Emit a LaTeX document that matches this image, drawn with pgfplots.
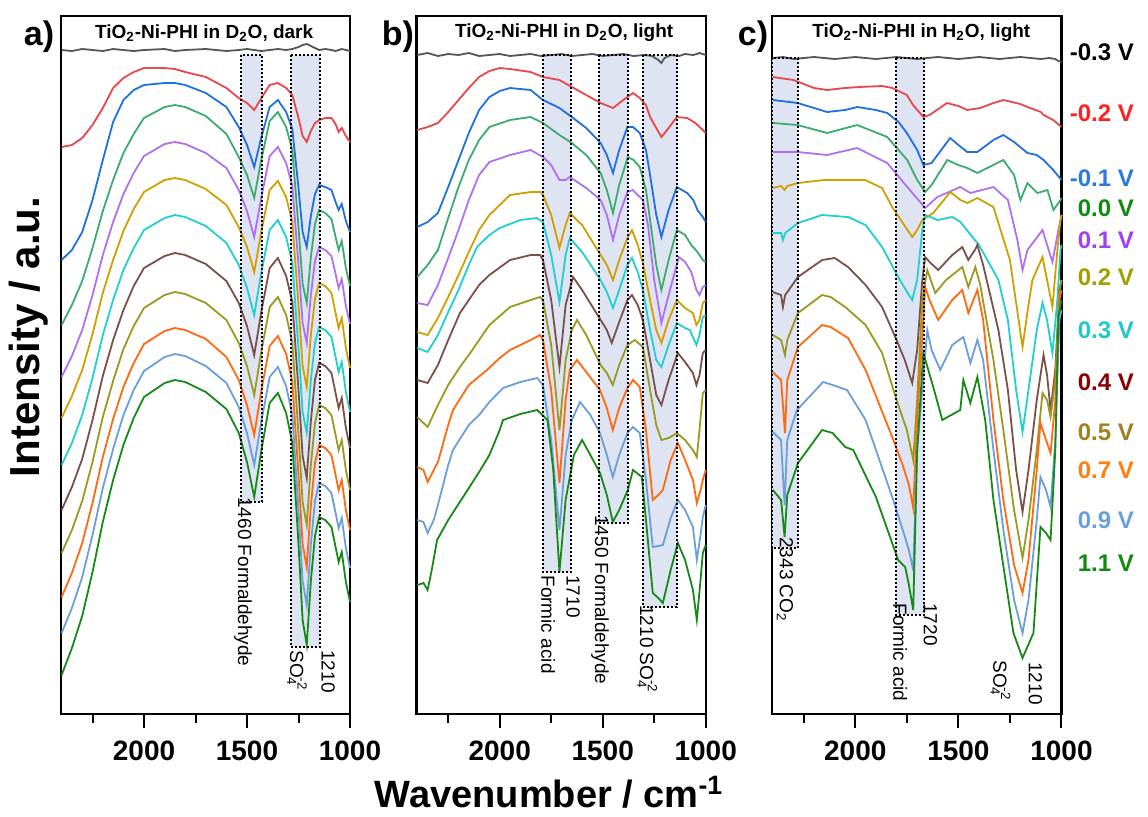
\documentclass[border=0pt]{standalone}
\usepackage{fontspec}
\setmainfont{Liberation Sans}
\usepackage{pgfplots}
\usepackage{pgfplotstable}
\pgfplotsset{compat=1.18}

\definecolor{cM3}{RGB}{85,85,85}
\definecolor{cM2}{RGB}{232,71,75}
\definecolor{cM1}{RGB}{32,112,224}
\definecolor{cP0}{RGB}{60,172,110}
\definecolor{cP1}{RGB}{176,112,240}
\definecolor{cP2}{RGB}{208,160,0}
\definecolor{cP3}{RGB}{32,208,208}
\definecolor{cP4}{RGB}{122,80,72}
\definecolor{cP5}{RGB}{154,154,32}
\definecolor{cP7}{RGB}{255,106,16}
\definecolor{cP9}{RGB}{106,159,219}
\definecolor{cP11}{RGB}{22,138,22}
\definecolor{boxfill}{RGB}{222,228,242}
% legend text colours
\definecolor{lM2}{RGB}{255,32,32}
\definecolor{lM1}{RGB}{42,122,224}
\definecolor{lP0}{RGB}{16,138,16}
\definecolor{lP1}{RGB}{160,64,240}
\definecolor{lP2}{RGB}{160,160,0}
\definecolor{lP3}{RGB}{32,200,200}
\definecolor{lP4}{RGB}{139,0,0}
\definecolor{lP5}{RGB}{160,128,32}
\definecolor{lP7}{RGB}{255,128,16}
\definecolor{lP9}{RGB}{106,159,219}
\definecolor{lP11}{RGB}{16,138,16}

\pgfplotsset{
  panel/.style={
    scale only axis, width=144.6pt, height=349pt, anchor=south west,
    xmin=1000, xmax=2404, x dir=reverse,
    ymin=16, ymax=714, y dir=reverse,
    ytick=\empty,
    xtick={1000,1500,2000}, minor xtick={1250,1750,2250},
    xtick pos=lower, tick align=outside,
    major tick length=7pt, minor tick length=4.5pt,
    every tick/.style={black, line width=1pt},
    axis line style={line width=1.1pt},
    tick label style={font=\fontsize{14}{16}\selectfont\bfseries},
    xticklabel style={yshift=-3pt},
    /pgf/number format/assume math mode=true,
    /pgf/number format/1000 sep={},
    clip=false,
    every axis plot/.append style={line width=0.9pt, mark=none},
  },
}
\tikzset{
  hbox/.style={black, line width=1pt, densely dotted},
  ann/.style={font=\fontsize{9.5}{10}\selectfont, rotate=-90, anchor=west, inner sep=0pt},
  ttl/.style={font=\fontsize{9.5}{10}\selectfont\bfseries},
}

\pgfplotstableread{
wn   m3  m2  m1  p0  p1  p2  p3  p4  p5  p7  p9  p11
2400 50 147 260 325 377 418 465 510 553 597 633 675
2350 51 145 250 305 356 396 443 487 530 573 608 648
2300 49 138 232 281 330 370 415 459 501 543 577 616
2250 50 125 200 248 295 334 378 420 462 503 535 572
2200 51 108 160 211 255 293 335 376 417 457 488 522
2150 49 88 122 180 222 260 300 340 381 419 449 480
2100 50 78 100 153 194 231 270 310 349 387 415 445
2050 51 72 90 134 173 209 248 286 326 363 390 418
2000 50 68 85 118 156 192 230 268 308 344 371 397
1900 49 68 83 107 144 180 218 256 295 331 357 383
1850 51 69 83 105 142 178 215 253 292 328 354 380
1800 50 72 85 107 144 180 217 255 294 330 356 382
1700 49 77 93 116 153 189 226 264 303 339 366 392
1600 51 88 107 134 168 205 243 281 320 357 383 409
1540 50 98 127 157 190 227 265 303 343 380 407 433
1500 49 103 145 175 211 247 288 326 366 405 433 462
1465 50 110 167 198 237 272 315 355 395 435 465 497
1430 51 98 137 159 197 231 272 311 351 390 421 450
1390 50 85 107 121 156 190 230 268 307 346 377 403
1350 49 83 100 112 147 181 220 258 297 336 367 393
1310 50 88 112 127 163 197 237 276 315 354 386 413
1280 49 95 129 150 186 222 263 302 343 382 415 443
1250 47 118 188 227 265 305 348 390 434 475 510 544
1230 45 136 232 284 323 366 412 456 502 544 581 620
1210 44 142 247 303 343 387 433 478 525 567 605 645
1190 46 131 216 257 295 335 380 421 465 506 544 581
1170 48 123 194 224 261 299 343 380 423 463 501 536
1150 50 120 185 210 247 283 327 363 405 445 483 517
1120 49 118 187 213 250 286 330 366 408 448 486 520
1090 50 118 190 219 256 293 337 373 415 455 493 527
1070 51 124 202 237 274 313 357 393 435 475 513 547
1055 50 132 210 250 288 328 372 408 450 490 528 562
1040 49 128 204 241 279 318 362 398 440 480 518 552
1020 50 136 221 268 306 348 392 428 470 510 548 582
1000 51 142 232 286 324 368 412 448 490 530 568 602
}\tabA

\begin{document}
\begin{tikzpicture}
\path[use as bounding box] (0,0) rectangle (574pt,408pt);

% ---------- panel a ----------
\begin{axis}[panel, at={(30.4pt,51pt)}]
\fill[boxfill] (axis cs:1529,55) rectangle (axis cs:1427,502);
\fill[boxfill] (axis cs:1286,55) rectangle (axis cs:1145,647);
\addplot[cM3]  table[x=wn,y=m3]{\tabA};
\addplot[cM2]  table[x=wn,y=m2]{\tabA};
\addplot[cM1]  table[x=wn,y=m1]{\tabA};
\addplot[cP0]  table[x=wn,y=p0]{\tabA};
\addplot[cP1]  table[x=wn,y=p1]{\tabA};
\addplot[cP2]  table[x=wn,y=p2]{\tabA};
\addplot[cP3]  table[x=wn,y=p3]{\tabA};
\addplot[cP4]  table[x=wn,y=p4]{\tabA};
\addplot[cP5]  table[x=wn,y=p5]{\tabA};
\addplot[cP7]  table[x=wn,y=p7]{\tabA};
\addplot[cP9]  table[x=wn,y=p9]{\tabA};
\addplot[cP11] table[x=wn,y=p11]{\tabA};
\draw[hbox] (axis cs:1529,55) rectangle (axis cs:1427,502);
\draw[hbox] (axis cs:1286,55) rectangle (axis cs:1145,647);
\node[ttl] at (axis cs:1708,33) {TiO\textsubscript{2}-Ni-PHI in D\textsubscript{2}O, dark};
\node[ann] at (axis cs:1519,497) {1460 Formaldehyde};
\node[ann] at (axis cs:1257,650) {SO\rlap{\textsubscript{4}}\textsuperscript{-2}};
\node[ann] at (axis cs:1106,650) {1210};
\end{axis}

% ---------- panel b ----------
\begin{axis}[panel, at={(208.25pt,51pt)}]
\fill[boxfill] (axis cs:1789,55) rectangle (axis cs:1654,572);
\fill[boxfill] (axis cs:1517,55) rectangle (axis cs:1376,523);
\fill[boxfill] (axis cs:1304,55) rectangle (axis cs:1139,607);
\addplot[cM3] coordinates {(2400,55)(2350,53)(2300,56)(2250,54)(2200,55)(2150,53)(2100,56)(2050,55)(2000,54)(1950,56)(1900,55)(1850,54)(1800,56)(1750,55)(1700,54)(1650,56)(1600,55)(1550,54)(1500,56)(1450,55)(1400,54)(1350,56)(1300,55)(1260,56)(1230,60)(1215,63)(1200,58)(1170,55)(1130,56)(1100,54)(1060,55)(1030,53)(1000,55)};
\addplot[cM2] coordinates {(2400,130)(2350,127)(2300,123)(2250,112)(2200,100)(2150,88)(2100,77)(2050,71)(2000,68)(1950,69)(1850,72)(1790,77)(1710,80)(1650,87)(1580,95)(1510,103)(1450,108)(1400,100)(1380,97)(1353,93)(1320,98)(1290,105)(1270,117)(1240,128)(1215,137)(1180,128)(1140,117)(1090,118)(1050,123)(1014,130)(1000,133)};
\addplot[cM1] coordinates {(2400,227)(2350,222)(2300,213)(2250,187)(2200,160)(2150,133)(2100,110)(2050,97)(2000,91)(1950,88)(1850,90)(1790,100)(1710,108)(1650,117)(1580,128)(1510,143)(1480,155)(1450,173)(1420,150)(1380,127)(1353,127)(1320,133)(1290,150)(1270,175)(1240,215)(1215,237)(1180,210)(1140,187)(1090,193)(1060,200)(1040,210)(1014,217)(1000,222)};
\addplot[cP0] coordinates {(2400,277)(2350,265)(2300,250)(2250,218)(2200,187)(2150,160)(2100,140)(2050,127)(1950,120)(1850,117)(1790,123)(1710,135)(1650,143)(1580,155)(1510,173)(1480,190)(1450,213)(1420,185)(1378,157)(1350,160)(1320,167)(1290,190)(1270,220)(1240,265)(1215,290)(1180,260)(1140,230)(1100,235)(1070,245)(1040,252)(1014,260)(1000,262)};
\addplot[cP1] coordinates {(2400,303)(2350,305)(2300,285)(2250,258)(2200,230)(2150,200)(2100,175)(2050,162)(1950,155)(1850,150)(1790,157)(1750,165)(1710,180)(1680,180)(1660,177)(1580,188)(1510,200)(1480,215)(1450,240)(1420,215)(1380,192)(1355,190)(1305,200)(1280,225)(1250,280)(1215,323)(1180,295)(1130,257)(1100,262)(1070,272)(1045,290)(1030,295)(1014,287)(1000,285)};
\addplot[cP2] coordinates {(2400,332)(2350,335)(2300,318)(2250,297)(2200,275)(2150,252)(2100,230)(2050,215)(2000,205)(1950,195)(1850,192)(1800,192)(1790,195)(1750,215)(1710,248)(1680,225)(1660,213)(1600,225)(1510,255)(1480,265)(1450,280)(1420,260)(1380,238)(1358,230)(1330,245)(1305,263)(1270,300)(1240,330)(1215,343)(1180,320)(1140,300)(1100,308)(1062,313)(1045,325)(1030,320)(1014,303)(1000,300)};
\addplot[cP3] coordinates {(2400,348)(2350,352)(2300,335)(2250,312)(2200,290)(2150,265)(2110,247)(2050,235)(2000,228)(1900,220)(1820,218)(1790,222)(1750,255)(1710,302)(1680,255)(1660,238)(1600,252)(1510,280)(1480,292)(1450,308)(1420,290)(1380,265)(1358,258)(1330,272)(1305,290)(1270,330)(1240,360)(1215,367)(1180,345)(1140,323)(1100,328)(1077,330)(1045,345)(1030,335)(1014,317)(1000,315)};
\addplot[cP4] coordinates {(2400,380)(2350,383)(2300,365)(2250,340)(2193,313)(2150,300)(2100,285)(2050,275)(1950,260)(1850,255)(1804,255)(1790,260)(1750,300)(1710,367)(1680,305)(1644,277)(1600,290)(1510,320)(1480,330)(1456,343)(1420,322)(1380,300)(1358,295)(1330,305)(1305,320)(1270,360)(1240,395)(1215,405)(1180,380)(1135,353)(1100,362)(1062,373)(1045,385)(1030,375)(1014,353)(1000,350)};
\addplot[cP5] coordinates {(2400,417)(2350,427)(2300,405)(2250,385)(2193,367)(2150,355)(2100,340)(2050,325)(1950,307)(1850,300)(1804,297)(1790,300)(1750,345)(1710,430)(1680,360)(1650,330)(1625,320)(1580,335)(1510,365)(1480,373)(1451,385)(1420,365)(1380,345)(1344,340)(1305,347)(1270,390)(1240,425)(1215,440)(1180,438)(1140,433)(1100,440)(1062,450)(1043,457)(1030,430)(1014,393)(1000,390)};
\addplot[cP7] coordinates {(2400,467)(2370,470)(2350,482)(2320,470)(2300,462)(2250,425)(2227,410)(2150,385)(2062,370)(2000,358)(1950,350)(1850,340)(1804,335)(1790,340)(1750,390)(1710,483)(1680,400)(1660,370)(1625,360)(1580,372)(1513,390)(1480,408)(1451,430)(1420,408)(1380,388)(1353,380)(1320,387)(1290,430)(1257,500)(1230,495)(1208,490)(1170,460)(1135,443)(1100,460)(1062,480)(1043,503)(1025,490)(1014,480)(1000,470)};
\addplot[cP9] coordinates {(2400,520)(2370,522)(2350,533)(2320,520)(2300,505)(2250,465)(2227,450)(2150,425)(2100,415)(2050,402)(1984,388)(1900,382)(1818,378)(1790,385)(1750,440)(1710,530)(1680,455)(1650,420)(1610,402)(1560,415)(1513,433)(1480,455)(1451,477)(1420,455)(1380,433)(1353,427)(1320,433)(1290,480)(1257,547)(1230,546)(1208,545)(1170,518)(1135,500)(1100,510)(1062,527)(1043,560)(1025,535)(1014,517)(1000,505)};
\addplot[cP11] coordinates {(2400,585)(2370,583)(2350,590)(2330,570)(2304,540)(2250,520)(2178,497)(2100,472)(2050,455)(2000,430)(1984,420)(1900,414)(1818,410)(1768,420)(1740,470)(1710,572)(1680,500)(1640,455)(1600,440)(1560,455)(1513,473)(1480,495)(1451,522)(1420,510)(1378,490)(1353,470)(1310,477)(1290,520)(1257,593)(1230,598)(1208,603)(1170,570)(1135,543)(1100,560)(1062,590)(1043,620)(1025,580)(1014,553)(1000,545)};
\draw[hbox] (axis cs:1789,55) rectangle (axis cs:1654,572);
\draw[hbox] (axis cs:1517,55) rectangle (axis cs:1376,523);
\draw[hbox] (axis cs:1304,55) rectangle (axis cs:1139,607);
\node[ttl] at (axis cs:1687,33) {TiO\textsubscript{2}-Ni-PHI in D\textsubscript{2}O, light};
\node[ann] at (axis cs:1765,575) {Formic acid};
\node[ann] at (axis cs:1644,575) {1710};
\node[ann] at (axis cs:1513,515) {1450 Formaldehyde};
\node[ann] at (axis cs:1284,605) {1210 SO\rlap{\textsubscript{4}}\textsuperscript{-2}};
\end{axis}

% ---------- panel c ----------
\begin{axis}[panel, at={(386pt,51pt)}, width=144.75pt]
\fill[boxfill] (axis cs:2404,58) rectangle (axis cs:2278,548);
\fill[boxfill] (axis cs:1802,58) rectangle (axis cs:1666,615);
\addplot[cM3] coordinates {(2400,58)(2350,57)(2300,59)(2250,58)(2200,57)(2150,58)(2100,59)(2050,58)(2000,57)(1950,58)(1900,59)(1850,58)(1800,57)(1750,58)(1700,59)(1650,58)(1600,57)(1550,58)(1500,59)(1450,58)(1400,57)(1350,58)(1300,59)(1250,58)(1200,57)(1150,58)(1100,59)(1060,58)(1030,59)(1015,61)(1000,62)};
\addplot[cM2] coordinates {(2400,77)(2300,80)(2200,88)(2137,90)(2050,88)(1980,87)(1870,86)(1820,88)(1750,95)(1720,105)(1670,117)(1640,115)(1555,103)(1500,106)(1457,110)(1394,108)(1330,103)(1282,100)(1200,104)(1165,107)(1100,112)(1087,115)(1040,120)(1000,127)};
\addplot[cM1] coordinates {(2400,100)(2280,103)(2200,108)(2137,112)(2050,110)(1990,107)(1900,110)(1845,113)(1790,122)(1750,133)(1700,150)(1670,165)(1630,163)(1540,138)(1500,145)(1457,152)(1408,152)(1330,140)(1282,135)(1230,142)(1165,153)(1120,155)(1087,160)(1040,170)(1000,180)};
\addplot[cP0] coordinates {(2400,123)(2280,125)(2137,133)(1991,125)(1845,137)(1748,160)(1700,180)(1661,192)(1630,185)(1554,160)(1500,165)(1457,168)(1408,173)(1330,165)(1282,160)(1230,175)(1199,200)(1165,183)(1117,193)(1068,190)(1039,210)(1005,200)(1000,198)};
\addplot[cP1] coordinates {(2400,152)(2280,152)(2137,155)(1991,148)(1845,163)(1748,187)(1661,208)(1602,197)(1491,187)(1442,193)(1330,187)(1260,200)(1214,240)(1189,270)(1165,250)(1092,230)(1044,262)(1015,230)(1000,215)};
\addplot[cP2] coordinates {(2400,188)(2360,186)(2343,190)(2330,186)(2278,183)(2150,180)(1952,180)(1870,188)(1821,207)(1724,237)(1700,230)(1675,220)(1622,213)(1539,192)(1490,200)(1457,203)(1408,198)(1330,207)(1306,223)(1250,260)(1189,347)(1160,305)(1141,280)(1092,257)(1044,307)(1020,250)(1005,220)(1000,215)};
\addplot[cP3] coordinates {(2400,233)(2360,233)(2351,240)(2340,233)(2278,223)(2161,215)(2035,217)(1950,225)(1870,247)(1792,277)(1740,295)(1724,300)(1700,280)(1675,230)(1661,215)(1600,220)(1530,217)(1490,222)(1432,237)(1400,245)(1306,280)(1260,320)(1220,390)(1189,432)(1160,390)(1120,330)(1092,303)(1070,320)(1044,353)(1020,300)(1005,250)(1000,245)};
\addplot[cP4] coordinates {(2400,292)(2360,295)(2351,307)(2340,295)(2278,277)(2161,260)(2100,258)(2035,267)(1950,285)(1870,307)(1800,340)(1760,360)(1724,383)(1700,350)(1675,280)(1661,257)(1640,262)(1598,270)(1530,255)(1481,247)(1452,260)(1420,250)(1408,245)(1380,265)(1306,330)(1260,390)(1220,470)(1189,512)(1160,470)(1120,400)(1087,355)(1070,375)(1053,410)(1030,370)(1010,290)(1000,280)};
\addplot[cP5] coordinates {(2400,335)(2360,340)(2341,355)(2330,340)(2278,313)(2161,295)(2120,297)(2049,307)(1950,325)(1870,353)(1800,400)(1750,430)(1719,460)(1700,400)(1675,300)(1651,270)(1612,293)(1560,280)(1481,267)(1452,287)(1418,267)(1394,285)(1330,360)(1282,430)(1230,510)(1189,558)(1160,520)(1120,450)(1092,393)(1070,400)(1053,417)(1030,380)(1010,290)(1000,280)};
\addplot[cP7] coordinates {(2400,372)(2360,380)(2341,433)(2330,380)(2278,347)(2161,325)(2120,327)(2035,338)(1950,370)(1821,437)(1770,465)(1740,485)(1719,508)(1700,420)(1661,287)(1640,300)(1598,320)(1530,300)(1481,290)(1452,313)(1408,290)(1380,320)(1330,420)(1282,500)(1230,565)(1189,593)(1160,560)(1120,470)(1102,423)(1075,440)(1053,453)(1030,400)(1010,300)(1000,290)};
\addplot[cP9] coordinates {(2400,432)(2360,440)(2343,505)(2330,440)(2283,410)(2156,382)(2110,385)(2040,390)(1950,420)(1816,500)(1770,530)(1740,550)(1719,570)(1700,450)(1651,330)(1630,350)(1588,370)(1530,345)(1476,337)(1442,363)(1408,340)(1380,360)(1330,450)(1282,530)(1230,600)(1189,633)(1160,600)(1120,520)(1102,477)(1075,490)(1053,507)(1030,440)(1010,320)(1000,310)};
\addplot[cP11] coordinates {(2400,490)(2360,500)(2343,537)(2330,495)(2278,463)(2161,430)(2110,433)(2049,447)(2010,450)(1900,497)(1792,560)(1758,567)(1740,585)(1719,610)(1700,450)(1670,353)(1622,387)(1578,420)(1491,410)(1476,380)(1442,403)(1408,377)(1370,420)(1330,500)(1233,633)(1189,658)(1136,633)(1102,527)(1075,533)(1053,540)(1030,450)(1015,317)(1000,300)};
\draw[hbox] (axis cs:2404,58) rectangle (axis cs:2278,548);
\draw[hbox] (axis cs:1802,58) rectangle (axis cs:1666,615);
\node[ttl] at (axis cs:1680,33) {TiO\textsubscript{2}-Ni-PHI in H\textsubscript{2}O, light};
\node[ann] at (axis cs:2341,537) {2343 CO\textsubscript{2}};
\node[ann] at (axis cs:1782,603) {Formic acid};
\node[ann] at (axis cs:1636,603) {1720};
\node[ann] at (axis cs:1296,660) {SO\rlap{\textsubscript{4}}\textsuperscript{-2}};
\node[ann] at (axis cs:1126,662) {1210};
\end{axis}

% ---------- outer labels ----------
\node[font=\fontsize{17}{17}\selectfont\bfseries] at (19.5pt,389.5pt) {a)};
\node[font=\fontsize{17}{17}\selectfont\bfseries] at (199pt,389.5pt) {b)};
\node[font=\fontsize{17}{17}\selectfont\bfseries] at (376.5pt,389.5pt) {c)};
\node[rotate=90, font=\fontsize{21}{21}\selectfont\bfseries] at (14.5pt,239.5pt) {Intensity / a.u.};
\node[font=\fontsize{19}{19}\selectfont\bfseries, inner sep=1pt] at (274.5pt,12pt) {Wavenumber / cm\textsuperscript{-1}};

\begin{scope}[every node/.style={anchor=east, font=\fontsize{12}{12}\selectfont\bfseries}]
\node[text=black] at (570.5pt,382pt) {-0.3 V};
\node[text=lM2]  at (570.5pt,351.5pt) {-0.2 V};
\node[text=lM1]  at (570.5pt,319pt) {-0.1 V};
\node[text=lP0]  at (570.5pt,304pt) {0.0 V};
\node[text=lP1]  at (570.5pt,288pt) {0.1 V};
\node[text=lP2]  at (570.5pt,269.5pt) {0.2 V};
\node[text=lP3]  at (570.5pt,243pt) {0.3 V};
\node[text=lP4]  at (570.5pt,217pt) {0.4 V};
\node[text=lP5]  at (570.5pt,192pt) {0.5 V};
\node[text=lP7]  at (570.5pt,173pt) {0.7 V};
\node[text=lP9]  at (570.5pt,148pt) {0.9 V};
\node[text=lP11] at (570.5pt,126.5pt) {1.1 V};
\end{scope}
\end{tikzpicture}
\end{document}
